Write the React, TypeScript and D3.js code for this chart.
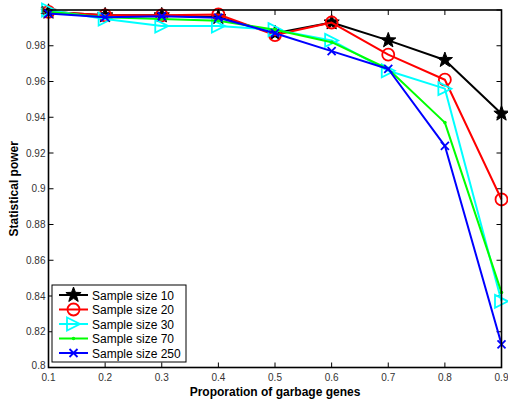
import React from "react";
import * as d3 from "d3";

const proportions = [0.1, 0.2, 0.3, 0.4, 0.5, 0.6, 0.7, 0.8, 0.9];
const seriesNames = ["Sample size 10", "Sample size 20", "Sample size 30", "Sample size 70", "Sample size 250"];
const size10 = [0.999, 0.997, 0.997, 0.996, 0.987, 0.993, 0.983, 0.972, 0.942];
const size20 = [0.999, 0.997, 0.997, 0.9975, 0.986, 0.993, 0.975, 0.961, 0.894];
const size30 = [1.0, 0.995, 0.991, 0.991, 0.989, 0.983, 0.966, 0.956, 0.837];
const size70 = [0.999, 0.996, 0.995, 0.994, 0.989, 0.982, 0.967, 0.937, 0.842];
const size250 = [0.998, 0.996, 0.9965, 0.9957, 0.987, 0.977, 0.967, 0.924, 0.813];
const xTicks = [0.1, 0.2, 0.3, 0.4, 0.5, 0.6, 0.7, 0.8, 0.9];
const yTicks = [0.8, 0.82, 0.84, 0.86, 0.88, 0.9, 0.92, 0.94, 0.96, 0.98, 1];

const seriesValues = [size10, size20, size30, size70, size250];
const colors = ["#000000", "#ff0000", "#00ffff", "#00ff00", "#0000ff"];
const markers = ["star", "circle", "triangle", "dot", "cross"];

const W = 508, H = 402;
const L = 48.5, R = 501.5, T = 10, B = 367.5;

function Marker({ type, x, y, color }: { type: string; x: number; y: number; color: string }) {
  if (type === "star") {
    const pts: string[] = [];
    for (let i = 0; i < 10; i++) {
      const r = i % 2 === 0 ? 8 : 3.3;
      const a = -Math.PI / 2 + (i * Math.PI) / 5;
      pts.push(`${x + r * Math.cos(a)},${y + r * Math.sin(a)}`);
    }
    return <polygon points={pts.join(" ")} fill={color} stroke={color} strokeWidth={1} />;
  }
  if (type === "circle") return <circle cx={x} cy={y} r={6} fill="none" stroke={color} strokeWidth={1.8} />;
  if (type === "triangle") {
    const s = 6.5;
    return <polygon points={`${x - s},${y - s} ${x + s},${y} ${x - s},${y + s}`} fill="none" stroke={color} strokeWidth={1.8} />;
  }
  if (type === "dot") return <circle cx={x} cy={y} r={1.8} fill={color} />;
  const c = 4;
  return (
    <g stroke={color} strokeWidth={1.8}>
      <line x1={x - c} y1={y - c} x2={x + c} y2={y + c} />
      <line x1={x - c} y1={y + c} x2={x + c} y2={y - c} />
    </g>
  );
}

export default function App() {
  const x = d3.scaleLinear().domain([0.1, 0.9]).range([L, R]);
  const y = d3.scaleLinear().domain([0.8, 1]).range([B, T]);
  const line = d3.line<number>().x((_, i) => x(proportions[i])).y((d) => y(d));
  const font = "Arial, 'Liberation Sans', Helvetica, sans-serif";
  const tickLen = 5;
  const legX = 52, legY = 285, legW = 134, legH = 77;
  return (
    <svg width={W} height={H} style={{ position: "absolute", left: 0, top: 0, background: "#fff" }} fontFamily={font}>
      <rect x={0} y={0} width={W} height={H} fill="#fff" />
      {/* ticks */}
      {xTicks.map((t) => (
        <g key={"xt" + t} stroke="#000" strokeWidth={1}>
          <line x1={x(t)} x2={x(t)} y1={B} y2={B - tickLen} />
          <line x1={x(t)} x2={x(t)} y1={T} y2={T + tickLen} />
        </g>
      ))}
      {yTicks.map((t) => (
        <g key={"yt" + t} stroke="#000" strokeWidth={1}>
          <line x1={L} x2={L + tickLen} y1={y(t)} y2={y(t)} />
          <line x1={R} x2={R - tickLen} y1={y(t)} y2={y(t)} />
        </g>
      ))}
      {/* series */}
      {seriesValues.map((vals, si) => (
        <g key={"s" + si}>
          <path d={line(vals) || ""} fill="none" stroke={colors[si]} strokeWidth={2} strokeLinejoin="round" />
          {vals.map((v, i) => (
            <Marker key={i} type={markers[si]} x={x(proportions[i])} y={y(v)} color={colors[si]} />
          ))}
        </g>
      ))}
      {/* frame */}
      <rect x={L} y={T} width={R - L} height={B - T} fill="none" stroke="#000" strokeWidth={1.6} />
      {/* tick labels */}
      {xTicks.map((t) => (
        <text key={"xl" + t} x={x(t)} y={B + 13} fontSize={10} textAnchor="middle" fill="#333">
          {d3.format("")(t)}
        </text>
      ))}
      {yTicks.map((t) => (
        <text key={"yl" + t} x={L - 3} y={y(t) + (t === 0.8 ? 1 : 3.5)} fontSize={10} textAnchor="end" fill="#333">
          {d3.format("")(t)}
        </text>
      ))}
      {/* axis titles */}
      <text x={(L + R) / 2} y={396} fontSize={12} fontWeight="bold" textAnchor="middle" fill="#000">
        Proporation of garbage genes
      </text>
      <text transform={`translate(18,${(T + B) / 2}) rotate(-90)`} fontSize={12} fontWeight="bold" textAnchor="middle" fill="#000">
        Statistical power
      </text>
      {/* legend */}
      <rect x={legX} y={legY} width={legW} height={legH} fill="#fff" stroke="#000" strokeWidth={1} />
      {seriesNames.map((name, i) => {
        const ly = legY + 10 + i * 14.5;
        return (
          <g key={"lg" + i}>
            <line x1={59} x2={88} y1={ly} y2={ly} stroke={colors[i]} strokeWidth={2} />
            <Marker type={markers[i]} x={73.5} y={ly} color={colors[i]} />
            <text x={92} y={ly + 4.5} fontSize={12} fill="#000">
              {name}
            </text>
          </g>
        );
      })}
    </svg>
  );
}
